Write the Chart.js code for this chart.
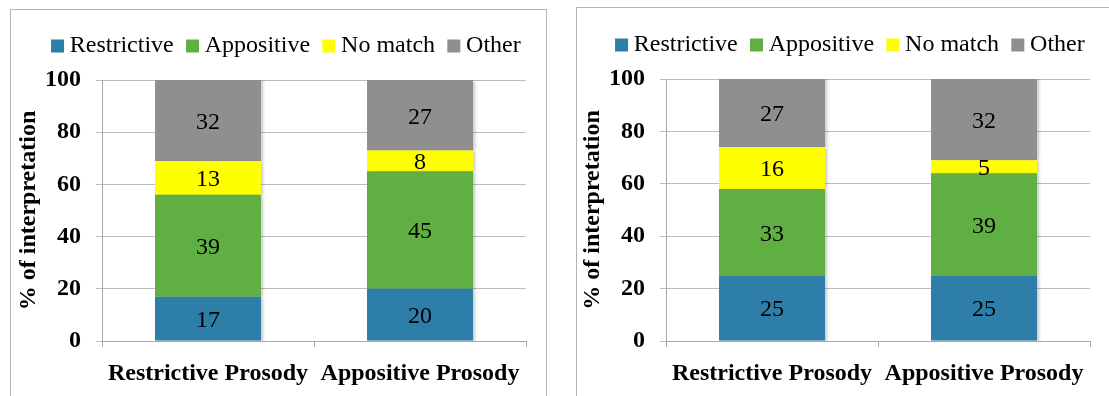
<!DOCTYPE html>
<html>
<head>
<meta charset="utf-8">
<script src="https://cdn.jsdelivr.net/npm/chart.js@4.4.1/dist/chart.umd.min.js"></script>
<style>
  html, body { margin: 0; padding: 0; background: #fff; width: 1109px; height: 396px; overflow: hidden; }
  .frame { position: absolute; border: 1px solid #b4b4b4; }
  .panel { position: absolute; }
  canvas { display: block; }
</style>
</head>
<body>
<div class="frame" style="left:10px;top:9px;width:535px;height:420px"></div>
<div class="frame" style="left:576px;top:7px;width:600px;height:420px"></div>
<div class="panel" style="left:10px;top:10px"><canvas id="chartLeft" width="558" height="386"></canvas></div>
<div class="panel" style="left:574px;top:9px"><canvas id="chartRight" width="558" height="387"></canvas></div>
<script>
// Categories, series names and tick values
const categories = ['Restrictive Prosody', 'Appositive Prosody'];
const seriesNames = ['Restrictive', 'Appositive', 'No match', 'Other'];
const yTickValues = [0, 20, 40, 60, 80, 100];
const yAxisTitle = '% of interpretation';

// Left panel values (%)
const leftRestrictive = [17, 20];
const leftAppositive  = [39, 45];
const leftNoMatch     = [13, 8];
const leftOther       = [32, 27];

// Right panel values (%)
const rightRestrictive = [25, 25];
const rightAppositive  = [33, 39];
const rightNoMatch     = [16, 5];
const rightOther       = [27, 32];

// Styling
const seriesColors = ['#2E7EAA', '#60AF43', '#FFFF00', '#8F8F8F'];
const gridColor = '#bdbdbd';
const axisColor = '#a9a9a9';
const serif = "'Liberation Serif', 'Times New Roman', serif";

Chart.defaults.font.family = serif;
Chart.defaults.color = '#000';

// Soft shadow behind the bar segments
const barShadow = {
  id: 'barShadow',
  beforeDatasetsDraw(chart) {
    const c = chart.ctx;
    c.save();
    c.shadowColor = 'rgba(0,0,0,0.22)';
    c.shadowBlur = 3;
    c.shadowOffsetX = 2;
    c.shadowOffsetY = 1;
  },
  afterDatasetsDraw(chart) {
    chart.ctx.restore();
  }
};

// Value written in the middle of each visible segment
const barValueLabels = {
  id: 'barValueLabels',
  afterDatasetsDraw(chart) {
    const { ctx, chartArea } = chart;
    ctx.save();
    ctx.font = '24px ' + serif;
    ctx.fillStyle = '#000';
    ctx.textAlign = 'center';
    ctx.textBaseline = 'middle';
    chart.data.datasets.forEach((ds, i) => {
      const meta = chart.getDatasetMeta(i);
      meta.data.forEach((bar, j) => {
        const top = Math.max(Math.min(bar.y, bar.base), chartArea.top);
        const bottom = Math.min(Math.max(bar.y, bar.base), chartArea.bottom);
        ctx.fillText(String(ds.data[j]), bar.x, (top + bottom) / 2 + 2);
      });
    });
    ctx.restore();
  }
};

function buildChart(canvasId, seriesValues) {
  const datasets = seriesValues.map((values, i) => ({
    label: seriesNames[i],
    data: values,
    backgroundColor: seriesColors[i],
    borderWidth: 0,
    barPercentage: 0.5,
    categoryPercentage: 1.0
  }));

  return new Chart(document.getElementById(canvasId), {
    type: 'bar',
    data: { labels: categories, datasets },
    plugins: [barShadow, barValueLabels],
    options: {
      responsive: false,
      animation: false,
      devicePixelRatio: 1,
      layout: { padding: { top: 5.5, left: 0, right: 0, bottom: 0 } },
      plugins: {
        tooltip: { enabled: false },
        legend: {
          position: 'top',
          align: 'center',
          labels: {
            usePointStyle: true,
            pointStyle: 'rect',
            boxWidth: 0.5,
            boxHeight: 13,
            padding: 18.5,
            color: '#000',
            font: { family: serif, size: 24 }
          }
        },
        subtitle: {
          display: true,
          text: '',
          position: 'top',
          weight: 500,
          font: { size: 1, lineHeight: 1 },
          padding: { top: 0, bottom: 11 }
        }
      },
      scales: {
        x: {
          stacked: true,
          grid: {
            display: true,
            offset: true,
            drawOnChartArea: false,
            drawTicks: true,
            tickLength: 6,
            color: axisColor
          },
          border: { display: true, color: axisColor },
          ticks: {
            color: '#000',
            font: { family: serif, size: 24, weight: 'bold' },
            padding: 12,
            maxRotation: 0,
            autoSkip: false
          },
          afterFit(scale) { scale.height = 55; }
        },
        y: {
          stacked: true,
          min: 0,
          max: 100,
          afterBuildTicks(scale) {
            scale.ticks = yTickValues.map(v => ({ value: v }));
          },
          grid: { color: gridColor, tickLength: 6, drawTicks: true },
          border: { display: true, color: axisColor },
          ticks: {
            color: '#000',
            font: { family: serif, size: 24, weight: 'bold' },
            padding: 15
          },
          title: {
            display: true,
            text: yAxisTitle,
            color: '#000',
            font: { family: serif, size: 24, weight: 'bold', lineHeight: 1.2 },
            padding: { top: 4, bottom: 0 }
          },
          afterFit(scale) { scale.width = 92; }
        },
        yRight: {
          position: 'right',
          display: true,
          grid: { display: false },
          border: { display: false },
          ticks: { display: false },
          afterFit(scale) { scale.width = 42; }
        }
      }
    }
  });
}

buildChart('chartLeft', [leftRestrictive, leftAppositive, leftNoMatch, leftOther]);
buildChart('chartRight', [rightRestrictive, rightAppositive, rightNoMatch, rightOther]);
</script>
</body>
</html>
